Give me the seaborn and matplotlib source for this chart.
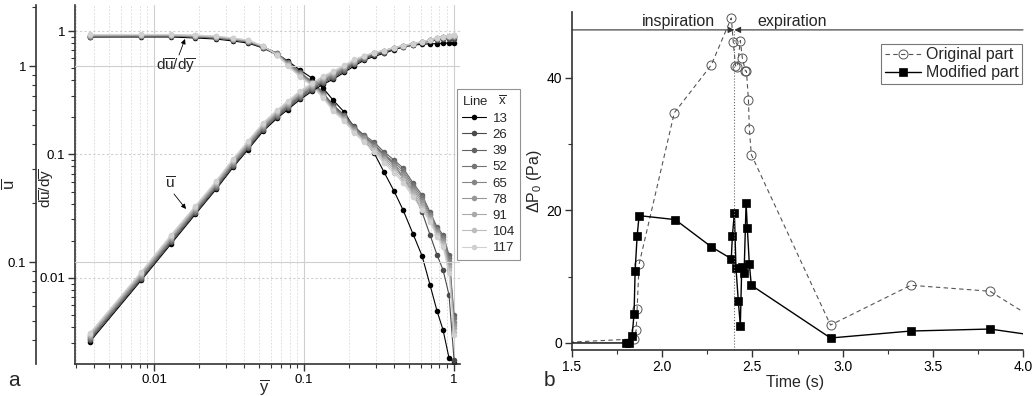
import numpy as np
import pandas as pd
import matplotlib
matplotlib.use('Agg')
import matplotlib.pyplot as plt
import seaborn as sns
from matplotlib.lines import Line2D
from matplotlib.ticker import LogLocator, NullFormatter, FuncFormatter, MultipleLocator

sns.set_theme(style='ticks')
plt.rcParams['font.family'] = ['Liberation Sans', 'DejaVu Sans']
plt.rcParams['mathtext.fontset'] = 'custom'
plt.rcParams['mathtext.rm'] = 'Liberation Sans'
plt.rcParams['mathtext.it'] = 'Liberation Sans:italic'
plt.rcParams['mathtext.bf'] = 'Liberation Sans:bold'

# ---------------- data: panel a ----------------
y_bar = [0.00374, 0.0082, 0.013, 0.0188, 0.0259, 0.0336, 0.0423, 0.0533, 0.066,
         0.078, 0.094, 0.113, 0.134, 0.156, 0.185, 0.216, 0.251, 0.293, 0.341,
         0.398, 0.457, 0.533, 0.612, 0.692, 0.77, 0.845, 0.926, 1.0]
line_ids = ['13', '26', '39', '52', '65', '78', '91', '104', '117']
line_colors = ['#000000', '#4a4a4a', '#636363', '#757575', '#858585',
               '#979797', '#a9a9a9', '#bdbdbd', '#d0d0d0']

u_13 = [0.0393, 0.0807, 0.124, 0.175, 0.235, 0.304, 0.375, 0.465, 0.541, 0.600, 0.675, 0.743, 0.807, 0.855,
        0.928, 1.00, 1.07, 1.12, 1.16, 1.21, 1.25, 1.28, 1.29, 1.30, 1.30, 1.31, 1.31, 1.31]
u_26 = [0.0400, 0.0819, 0.126, 0.178, 0.238, 0.309, 0.381, 0.472, 0.549, 0.610, 0.686, 0.755, 0.819, 0.869,
        0.943, 1.02, 1.08, 1.14, 1.17, 1.22, 1.25, 1.28, 1.31, 1.34, 1.36, 1.37, 1.38, 1.38]
u_39 = [0.0406, 0.0832, 0.128, 0.180, 0.242, 0.314, 0.387, 0.479, 0.558, 0.619, 0.697, 0.766, 0.832, 0.882,
        0.957, 1.03, 1.09, 1.15, 1.18, 1.23, 1.26, 1.29, 1.32, 1.35, 1.38, 1.39, 1.40, 1.40]
u_52 = [0.0410, 0.0841, 0.130, 0.182, 0.245, 0.317, 0.391, 0.484, 0.563, 0.626, 0.704, 0.774, 0.841, 0.891,
        0.967, 1.04, 1.10, 1.16, 1.19, 1.23, 1.26, 1.29, 1.32, 1.35, 1.38, 1.40, 1.41, 1.41]
u_65 = [0.0414, 0.0849, 0.131, 0.184, 0.247, 0.320, 0.395, 0.489, 0.569, 0.632, 0.711, 0.782, 0.849, 0.900,
        0.977, 1.05, 1.11, 1.17, 1.19, 1.24, 1.27, 1.30, 1.33, 1.36, 1.39, 1.40, 1.41, 1.42]
u_78 = [0.0418, 0.0857, 0.132, 0.186, 0.249, 0.323, 0.399, 0.494, 0.575, 0.638, 0.718, 0.790, 0.857, 0.909,
        0.985, 1.05, 1.11, 1.17, 1.20, 1.24, 1.27, 1.30, 1.33, 1.36, 1.39, 1.41, 1.42, 1.42]
u_91 = [0.0424, 0.0870, 0.134, 0.189, 0.253, 0.328, 0.405, 0.501, 0.583, 0.648, 0.729, 0.801, 0.869, 0.921,
        0.995, 1.06, 1.12, 1.17, 1.20, 1.24, 1.27, 1.30, 1.33, 1.36, 1.39, 1.41, 1.42, 1.43]
u_104 = [0.0431, 0.0883, 0.136, 0.191, 0.257, 0.333, 0.411, 0.509, 0.592, 0.657, 0.739, 0.812, 0.881, 0.932,
         1.00, 1.07, 1.12, 1.17, 1.20, 1.24, 1.27, 1.30, 1.33, 1.36, 1.39, 1.41, 1.43, 1.44]
u_117 = [0.0435, 0.0891, 0.138, 0.193, 0.259, 0.336, 0.415, 0.513, 0.597, 0.664, 0.747, 0.820, 0.889, 0.940,
         1.01, 1.08, 1.13, 1.17, 1.20, 1.24, 1.27, 1.30, 1.33, 1.36, 1.39, 1.41, 1.43, 1.44]

du_13 = [0.894, 0.894, 0.894, 0.878, 0.861, 0.830, 0.799, 0.728, 0.651, 0.572, 0.483, 0.416, 0.345, 0.276,
         0.221, 0.164, 0.131, 0.103, 0.0722, 0.0506, 0.0356, 0.0227, 0.0151, 0.00877, 0.00541, 0.00379,
         0.00225, 0.00205]
du_26 = [0.894, 0.911, 0.911, 0.894, 0.878, 0.846, 0.815, 0.728, 0.640, 0.551, 0.457, 0.387, 0.315, 0.252,
         0.209, 0.170, 0.141, 0.119, 0.0991, 0.0838, 0.0645, 0.0497, 0.0342, 0.0223, 0.0154, 0.0116,
         0.00728, 0.00217]
du_39 = [0.902, 0.911, 0.911, 0.894, 0.878, 0.846, 0.815, 0.742, 0.664, 0.561, 0.466, 0.387, 0.315, 0.247,
         0.209, 0.167, 0.144, 0.126, 0.105, 0.0903, 0.0778, 0.0588, 0.0470, 0.0342, 0.0259, 0.0223,
         0.0154, 0.00501]
du_52 = [0.908, 0.915, 0.915, 0.899, 0.883, 0.851, 0.820, 0.744, 0.660, 0.554, 0.459, 0.382, 0.310, 0.243,
         0.205, 0.164, 0.141, 0.122, 0.101, 0.0867, 0.0743, 0.0563, 0.0449, 0.0332, 0.0251, 0.0215,
         0.0146, 0.00471]
du_65 = [0.914, 0.919, 0.919, 0.905, 0.889, 0.857, 0.825, 0.747, 0.656, 0.548, 0.452, 0.378, 0.305, 0.239,
         0.201, 0.161, 0.138, 0.118, 0.0978, 0.0833, 0.0709, 0.0539, 0.0428, 0.0321, 0.0243, 0.0207,
         0.0138, 0.00443]
du_78 = [0.919, 0.924, 0.924, 0.911, 0.894, 0.862, 0.830, 0.749, 0.652, 0.541, 0.445, 0.373, 0.301, 0.236,
         0.198, 0.158, 0.135, 0.115, 0.0945, 0.0800, 0.0676, 0.0516, 0.0409, 0.0312, 0.0236, 0.0199,
         0.0130, 0.00416]
du_91 = [0.925, 0.928, 0.928, 0.917, 0.899, 0.867, 0.836, 0.751, 0.648, 0.534, 0.438, 0.368, 0.296, 0.232,
         0.194, 0.155, 0.132, 0.111, 0.0913, 0.0768, 0.0646, 0.0494, 0.0390, 0.0302, 0.0229, 0.0192,
         0.0123, 0.00391]
du_104 = [0.931, 0.933, 0.933, 0.922, 0.905, 0.873, 0.841, 0.754, 0.644, 0.528, 0.431, 0.364, 0.291, 0.229,
          0.190, 0.152, 0.129, 0.108, 0.0883, 0.0738, 0.0616, 0.0473, 0.0372, 0.0293, 0.0222, 0.0185,
          0.0116, 0.00367]
du_117 = [0.937, 0.937, 0.937, 0.928, 0.911, 0.878, 0.846, 0.756, 0.640, 0.521, 0.424, 0.359, 0.287, 0.225,
          0.187, 0.149, 0.126, 0.105, 0.0853, 0.0708, 0.0588, 0.0453, 0.0356, 0.0284, 0.0215, 0.0178,
          0.0110, 0.00345]

u_series = [u_13, u_26, u_39, u_52, u_65, u_78, u_91, u_104, u_117]
du_series = [du_13, du_26, du_39, du_52, du_65, du_78, du_91, du_104, du_117]

# ---------------- data: panel b ----------------
t_orig = [1.40, 1.844, 1.856, 1.861, 1.872, 2.067, 2.272, 2.383, 2.394, 2.406, 2.417, 2.433,
          2.444, 2.461, 2.467, 2.478, 2.483, 2.494, 2.933, 3.378, 3.817, 4.10]
dp_orig = [0.0, 0.6, 2.0, 5.1, 11.9, 34.7, 41.9, 49.0, 45.4, 41.8, 41.6, 45.6,
           43.0, 41.0, 41.0, 36.7, 32.3, 28.4, 2.7, 8.7, 7.8, 3.0]
t_mod = [1.40, 1.800, 1.817, 1.833, 1.844, 1.850, 1.861, 1.872, 2.072, 2.272, 2.383, 2.389,
         2.400, 2.409, 2.422, 2.433, 2.441, 2.454, 2.465, 2.472, 2.483, 2.494, 2.933, 3.378,
         3.817, 4.10]
dp_mod = [0.0, 0.0, 0.0, 1.0, 4.4, 10.9, 16.1, 19.2, 18.6, 14.5, 12.7, 16.1,
          19.6, 11.3, 6.3, 2.6, 11.5, 10.6, 21.1, 17.3, 11.9, 8.7, 0.75, 1.8,
          2.1, 1.0]
t_switch = 2.4
arrow_level = 47.2

# ---------------- frames ----------------
df_u = pd.DataFrame({'ybar': y_bar * len(line_ids),
                     'u': sum(u_series, []),
                     'line': [lid for lid in line_ids for _ in y_bar]})
df_du = pd.DataFrame({'ybar': y_bar * len(line_ids),
                      'du': sum(du_series, []),
                      'line': [lid for lid in line_ids for _ in y_bar]})
pal = dict(zip(line_ids, line_colors))

W, H = 1035, 396
fig = plt.figure(figsize=(W / 100, H / 100), dpi=100)

spine_col = '#333333'
lab_fs = 9.5

# ---------------- panel a ----------------
ax = fig.add_axes([75 / W, 1 - 364 / H, 385 / W, 359 / H])
ax.set_xscale('log')
ax.set_yscale('log')
ax.set_xlim(0.00297, 1.096)
ax.set_ylim(0.00201, 1.624)
ax2 = ax.twinx()
ax2.set_yscale('log')
ax2.set_ylim(0.0302, 2.048)

sns.lineplot(data=df_du, x='ybar', y='du', hue='line', palette=pal, hue_order=line_ids,
             marker='o', markersize=4, markeredgewidth=0, linewidth=0.8,
             estimator=None, sort=False, legend=False, ax=ax)
sns.lineplot(data=df_u, x='ybar', y='u', hue='line', palette=pal, hue_order=line_ids,
             marker='o', markersize=4, markeredgewidth=0, linewidth=0.8,
             estimator=None, sort=False, legend=False, ax=ax2)
ax.set_xlim(0.00297, 1.096)
ax.set_ylim(0.00201, 1.624)
ax2.set_ylim(0.0302, 2.048)

fmt = FuncFormatter(lambda v, p: f'{v:g}')
for a in (ax, ax2):
    a.yaxis.set_major_locator(LogLocator(base=10, numticks=10))
    a.yaxis.set_minor_locator(LogLocator(base=10, subs=np.arange(2, 10), numticks=12))
    a.yaxis.set_major_formatter(fmt)
    a.yaxis.set_minor_formatter(NullFormatter())
ax.xaxis.set_major_locator(LogLocator(base=10, numticks=10))
ax.xaxis.set_minor_locator(LogLocator(base=10, subs=np.arange(2, 10), numticks=12))
ax.xaxis.set_major_formatter(fmt)
ax.xaxis.set_minor_formatter(NullFormatter())

ax.spines['top'].set_visible(False)
ax.spines['right'].set_visible(False)
ax2.spines['top'].set_visible(False)
ax2.spines['right'].set_visible(False)
ax2.spines['bottom'].set_visible(False)
ax2.yaxis.tick_left()
ax2.yaxis.set_label_position('left')
ax2.spines['left'].set_visible(True)
ax2.spines['left'].set_position(('outward', 28.1))
for a in (ax, ax2):
    for s in a.spines.values():
        s.set_color(spine_col)
        s.set_linewidth(1.2)
    a.tick_params(which='major', direction='out', length=5, width=1, colors=spine_col,
                  labelsize=lab_fs, labelcolor='black', pad=2)
    a.tick_params(which='minor', direction='out', length=3, width=0.8, colors=spine_col)
ax2.tick_params(axis='y', which='both', left=True, right=False, labelleft=True, labelright=False)

ax.grid(which='major', axis='x', color='#cfcfcf', lw=0.8, ls='-')
ax.grid(which='minor', axis='x', color='#d8d8d8', lw=0.6, ls=(0, (2, 2)))
ax.grid(which='major', axis='y', color='#cfcfcf', lw=0.8, ls=(0, (2, 2)))
ax2.grid(which='major', axis='y', color='#cfcfcf', lw=0.8, ls='-')
ax.set_axisbelow(True)
ax2.set_axisbelow(True)

ax.set_xlabel(r'$\mathrm{\overline{y}}$', fontsize=12)
ax.xaxis.set_label_coords(0.491, -0.035)
ax.set_ylabel(r'$\mathrm{d\overline{u}/d\overline{y}}$', fontsize=11)
ax.yaxis.set_label_coords(-0.046, 0.49)
ax2.set_ylabel(r'$\mathrm{\overline{u}}$', fontsize=12)
ax2.yaxis.set_label_coords(-0.15, 0.5)

# annotations (figure-pixel placement)
def fp(x, y):
    return (x / W, 1 - y / H)

fig.text(*fp(176, 66), r'$\mathrm{d\overline{u}/d\overline{y}}$', ha='center', va='center', fontsize=11)
ax.annotate('', xy=fp(185, 39), xycoords='figure fraction', xytext=fp(179, 55),
            textcoords='figure fraction',
            arrowprops=dict(arrowstyle='-|>', color='black', lw=0.6, mutation_scale=7,
                            shrinkA=0, shrinkB=0))
fig.text(*fp(170, 184), r'$\mathrm{\overline{u}}$', ha='center', va='center', fontsize=11)
ax.annotate('', xy=fp(186, 209), xycoords='figure fraction', xytext=fp(174, 194),
            textcoords='figure fraction',
            arrowprops=dict(arrowstyle='-|>', color='black', lw=0.6, mutation_scale=7,
                            shrinkA=0, shrinkB=0))

handles = [Line2D([], [], color=c, marker='o', markersize=4, markeredgewidth=0, lw=0.8)
           for c in line_colors]
leg = fig.legend(handles, line_ids, title=r'Line   $\mathrm{\overline{x}}$', loc='upper left',
                 bbox_to_anchor=fp(457, 89), frameon=True, fancybox=False, fontsize=9.5,
                 title_fontsize=9.5, handlelength=1.8, handletextpad=0.5, labelspacing=0.3,
                 borderpad=0.4, borderaxespad=0, alignment='left')
leg.get_frame().set_edgecolor('#777777')
leg.get_frame().set_linewidth(0.8)

fig.text(*fp(14, 381), 'a', ha='center', va='center', fontsize=15)

# ---------------- panel b ----------------
axb = fig.add_axes([572 / W, 1 - 350 / H, 451 / W, 338 / H])
sns.lineplot(x=t_orig, y=dp_orig, ax=axb, color='#555555', linestyle=(0, (4, 3)), lw=0.8,
             marker='o', markersize=6.5, markerfacecolor='none', markeredgecolor='#555555',
             markeredgewidth=0.7, sort=False, estimator=None, label='Original part')
sns.lineplot(x=t_mod, y=dp_mod, ax=axb, color='black', lw=1.0, marker='s', markersize=5.5,
             markerfacecolor='black', markeredgecolor='black', markeredgewidth=0.5,
             sort=False, estimator=None, label='Modified part')
axb.set_xlim(1.5, 4.0)
axb.set_ylim(-1.06, 49.9)
axb.xaxis.set_major_locator(MultipleLocator(0.5))
axb.xaxis.set_minor_locator(MultipleLocator(0.25))
axb.yaxis.set_major_locator(MultipleLocator(20))
axb.yaxis.set_minor_locator(MultipleLocator(10))
axb.xaxis.set_major_formatter(FuncFormatter(lambda v, p: f'{v:.1f}'))
axb.spines['top'].set_visible(False)
axb.spines['right'].set_visible(False)
for s in axb.spines.values():
    s.set_color(spine_col)
    s.set_linewidth(1.2)
axb.tick_params(which='major', direction='out', length=5, width=1, colors=spine_col,
                labelsize=10, labelcolor='black', pad=2)
axb.tick_params(which='minor', direction='out', length=3, width=0.8, colors=spine_col)

axb.axvline(t_switch, ymax=(arrow_level + 1.06) / (49.9 + 1.06), color='#666666', lw=0.8, ls=':')
axb.annotate('', xy=(t_switch, arrow_level), xytext=(1.5, arrow_level),
             arrowprops=dict(arrowstyle='-|>', color='#333333', lw=0.8, mutation_scale=9,
                             shrinkA=0, shrinkB=0))
axb.annotate('', xy=(t_switch, arrow_level), xytext=(4.0, arrow_level),
             arrowprops=dict(arrowstyle='-|>', color='#333333', lw=0.8, mutation_scale=9,
                             shrinkA=0, shrinkB=0))
axb.text(2.089, 47.8, 'inspiration', ha='center', va='baseline', fontsize=11.5)
axb.text(2.719, 47.8, 'expiration', ha='center', va='baseline', fontsize=11.5)

axb.set_xlabel('Time (s)', fontsize=11.5)
axb.xaxis.set_label_coords(0.495, -0.075)
axb.set_ylabel(r'$\Delta$P$_0$ (Pa)', fontsize=11.5)
axb.yaxis.set_label_coords(-0.062, 0.5)

legb = axb.legend(loc='upper right', bbox_to_anchor=fp(1022, 44), bbox_transform=fig.transFigure,
                  frameon=True, fancybox=False, fontsize=11.5, handlelength=2.3, handletextpad=0.3,
                  labelspacing=0.2, borderpad=0.2, borderaxespad=0)
legb.get_frame().set_edgecolor('#555555')
legb.get_frame().set_linewidth(0.8)

fig.text(*fp(549, 381), 'b', ha='center', va='center', fontsize=15)

fig.savefig('out.png', dpi=100, facecolor='white')
